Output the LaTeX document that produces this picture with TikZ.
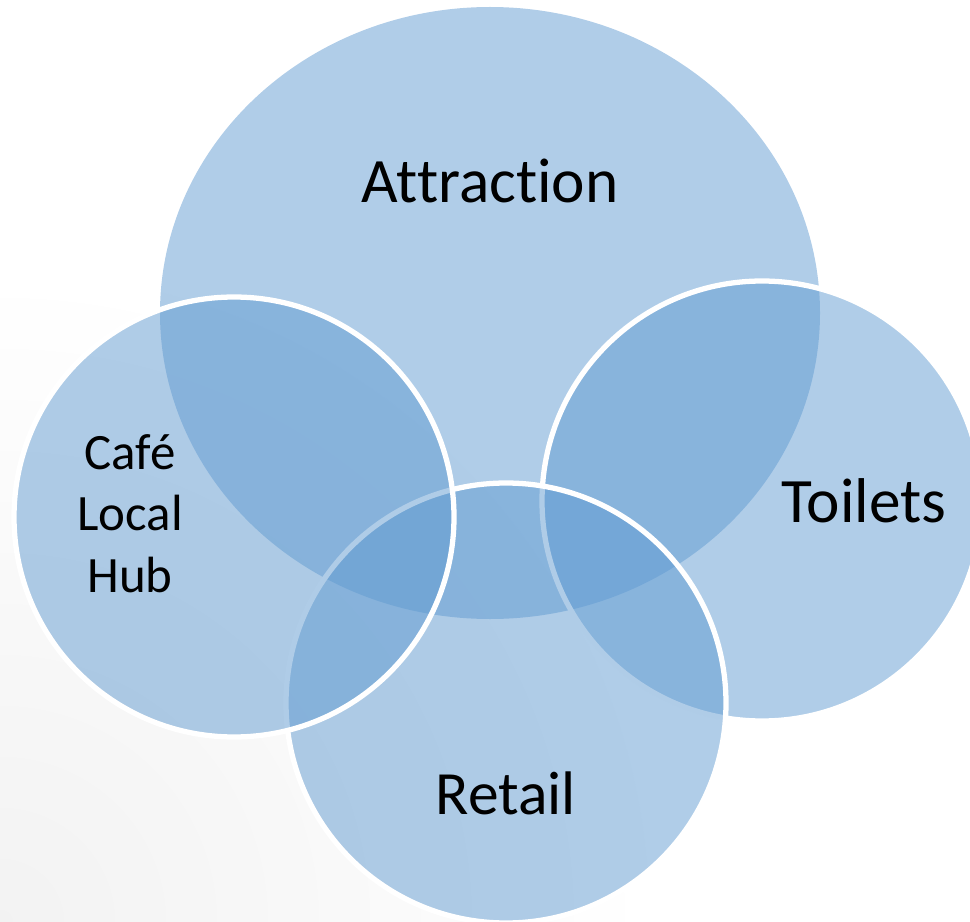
\documentclass[tikz,border=0pt]{standalone}
\usepackage{fontspec}
\setmainfont{Carlito}[Ligatures={NoCommon}]
\definecolor{vennblue}{RGB}{97,155,209}
\tikzset{
  venn/.style={fill=vennblue, fill opacity=.5, draw=white, line width=3pt},
  vennlabel/.style={anchor=base, text=black, font=\fontsize{36}{43.2}\selectfont},
}
\begin{document}
\begin{tikzpicture}[x=0.02cm, y=-0.02cm]
  \useasboundingbox (0,0) rectangle (970,922);
  \begin{scope}
  \clip (0,0) rectangle (970,922);
  \shade[inner color=black!5, outer color=white] (0,922) circle [radius=650];
  % the big one first, then the three small ones
  \fill[vennblue, fill opacity=.5] (490,313) ellipse [x radius=330, y radius=306];
  \filldraw[venn] (762,501) circle [radius=220];
  \filldraw[venn] (506,703) circle [radius=220];
  \filldraw[venn] (234,517) circle [radius=220];
  \end{scope}
  \node[vennlabel] (attraction) at (490,203) {Attraction};
  \node[vennlabel] (toilets) at (864,522) {Toilets};
  \node[vennlabel, font=\fontsize{35}{42}\selectfont] (retail) at (506,814) {Retail};
  \node[vennlabel, align=center, font=\fontsize{29}{34.8}\selectfont]
    (cafe) at (130,592) {Café\\Local\\Hub};
\end{tikzpicture}
\end{document}
